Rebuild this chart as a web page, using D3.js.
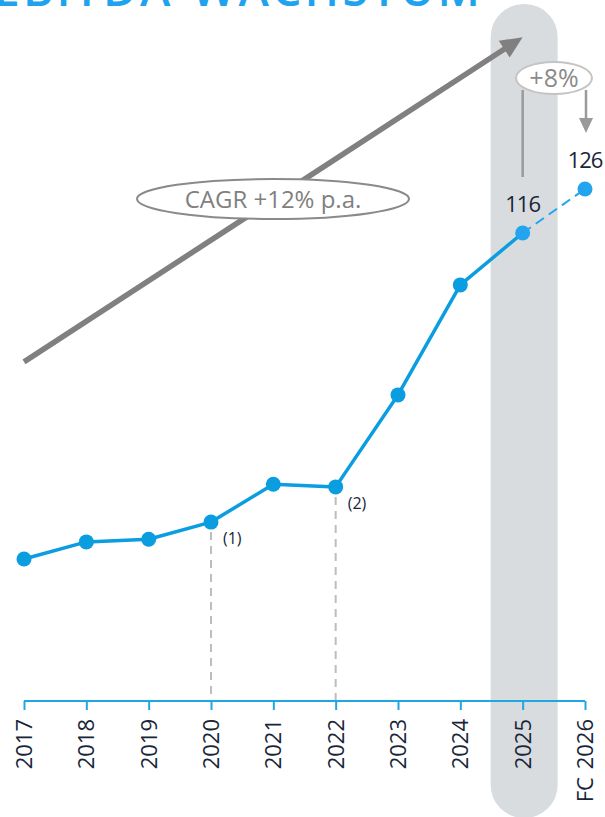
<!DOCTYPE html>
<html>
<head>
<meta charset="utf-8">
<script src="https://cdn.jsdelivr.net/npm/d3@7"></script>
<style>
html,body{margin:0;padding:0;background:#fff;}
svg{display:block;font-family:"Open Sans","Lato",sans-serif;}
</style>
</head>
<body>
<svg id="chart" width="605" height="817"></svg>
<script>
// ---- data ----
const years = ["2017","2018","2019","2020","2021","2022","2023","2024","2025","FC 2026"];
const values = [41.9, 45.8, 46.4, 50.3, 58.9, 58.3, 79.2, 104.2, 116, 126];
const valueLabels = [{idx: 8, text: "116"}, {idx: 9, text: "126"}];
const footnotes = [{idx: 3, text: "(1)"}, {idx: 5, text: "(2)"}];
const titleText = "EBITDA-WACHSTUM";
const cagrText = "CAGR +12% p.a.";
const growthText = "+8%";
const cagrStart = 86.7, cagrEnd = 160.5; // arrow levels in value units
const highlightIdx = 8;

// ---- scales ----
const svg = d3.select("#chart");
const x = d3.scalePoint().domain(years).range([24, 585]);
const y = d3.scaleLinear().domain([0, 126]).range([743.4, 189]);
const axisY = 701;

const blue = "#0a9de0";
const lightBlue = "#22a5ee";
const gray = "#808080";
const navy = "#18263a";

// highlight band
const bx = x(years[highlightIdx]) + 1.5;
svg.append("rect")
  .attr("x", bx - 33.5).attr("y", 4)
  .attr("width", 67).attr("height", 814)
  .attr("rx", 33).attr("ry", 33)
  .attr("fill", "#d9dcdf");

// title
svg.append("text")
  .attr("x", 480).attr("y", 6)
  .attr("text-anchor", "end")
  .attr("font-size", 46).attr("font-weight", 600)
  .attr("fill", "#1fa3ee")
  .attr("textLength", 486)
  .text(titleText);

// CAGR arrow
const ax0 = x(years[0]), ay0 = y(cagrStart);
const ax1 = x(years[highlightIdx]), ay1 = y(cagrEnd);
const ang = Math.atan2(ay1 - ay0, ax1 - ax0);
const hl = 22, hw = 10;
const bxh = ax1 - hl * Math.cos(ang), byh = ay1 - hl * Math.sin(ang);
svg.append("line")
  .attr("x1", ax0).attr("y1", ay0)
  .attr("x2", bxh + 3 * Math.cos(ang)).attr("y2", byh + 3 * Math.sin(ang))
  .attr("stroke", gray).attr("stroke-width", 5.5);
svg.append("path")
  .attr("d", `M${ax1},${ay1} L${bxh - hw * Math.sin(ang)},${byh + hw * Math.cos(ang)} L${bxh + hw * Math.sin(ang)},${byh - hw * Math.cos(ang)} Z`)
  .attr("fill", gray);

// CAGR ellipse
svg.append("ellipse")
  .attr("cx", 273).attr("cy", 199).attr("rx", 136).attr("ry", 20)
  .attr("fill", "#fff").attr("stroke", "#8a8a8a").attr("stroke-width", 2);
svg.append("text")
  .attr("x", 273).attr("y", 207.5)
  .attr("text-anchor", "middle")
  .attr("font-size", 24).attr("fill", gray)
  .text(cagrText);

// growth annotation (+8%)
const g8x0 = x(years[8]), g8x1 = x(years[9]);
svg.append("line")
  .attr("x1", g8x0).attr("y1", 90).attr("x2", g8x0).attr("y2", 177)
  .attr("stroke", "#9a9a9a").attr("stroke-width", 2.5);
svg.append("line")
  .attr("x1", g8x1 + 1).attr("y1", 90).attr("x2", g8x1 + 1).attr("y2", 120)
  .attr("stroke", "#9a9a9a").attr("stroke-width", 2.5);
svg.append("path")
  .attr("d", `M${g8x1 - 6},118 L${g8x1 + 8},118 L${g8x1 + 1},133 Z`)
  .attr("fill", "#9a9a9a");
svg.append("ellipse")
  .attr("cx", 554).attr("cy", 78).attr("rx", 38).attr("ry", 16)
  .attr("fill", "#fff").attr("stroke", "#c4c4c4").attr("stroke-width", 2);
svg.append("text")
  .attr("x", 554).attr("y", 87)
  .attr("text-anchor", "middle")
  .attr("font-size", 25).attr("fill", "#8a8a8a")
  .text(growthText);

// dashed footnote guides
footnotes.forEach(f => {
  const fx = x(years[f.idx]);
  svg.append("line")
    .attr("x1", fx).attr("x2", fx)
    .attr("y1", y(values[f.idx]) + 10).attr("y2", axisY)
    .attr("stroke", "#bdbdbd").attr("stroke-width", 2)
    .attr("stroke-dasharray", "8,6");
  svg.append("text")
    .attr("x", fx + 12).attr("y", y(values[f.idx]) + 22)
    .attr("font-size", 16).attr("fill", navy)
    .text(f.text);
});

// axis
const axis = d3.axisBottom(x).tickSize(9).tickSizeOuter(0).tickFormat("");
const axG = svg.append("g").attr("transform", `translate(0,${axisY})`).call(axis);
axG.select(".domain").attr("stroke", "#1ea7e1").attr("stroke-width", 2)
  .attr("d", `M${x(years[0])},0H${x(years[years.length-1])}`);
axG.selectAll(".tick line").attr("stroke", "#1ea7e1").attr("stroke-width", 2);

svg.append("g").selectAll("text").data(years).join("text")
  .attr("transform", d => `translate(${x(d)},719) rotate(-90)`)
  .attr("text-anchor", "end")
  .attr("dy", "0.36em")
  .attr("font-size", 22).attr("fill", navy)
  .attr("word-spacing", 2)
  .text(d => d);

// line
const pts = years.map((d, i) => [x(d), y(values[i])]);
svg.append("path")
  .attr("d", d3.line()(pts.slice(0, 9)))
  .attr("fill", "none").attr("stroke", blue).attr("stroke-width", 3.5)
  .attr("stroke-linejoin", "round");
svg.append("path")
  .attr("d", d3.line()(pts.slice(8, 10)))
  .attr("fill", "none").attr("stroke", lightBlue).attr("stroke-width", 2)
  .attr("stroke-dasharray", "10,6");

svg.append("g").selectAll("circle").data(pts).join("circle")
  .attr("cx", d => d[0]).attr("cy", d => d[1]).attr("r", 7.5)
  .attr("fill", (d, i) => i >= 8 ? lightBlue : blue);

// value labels
valueLabels.forEach(v => {
  svg.append("text")
    .attr("x", x(years[v.idx])).attr("y", y(values[v.idx]) - 21)
    .attr("text-anchor", "middle")
    .attr("font-size", 22).attr("fill", navy)
    .attr("letter-spacing", -1)
    .text(v.text);
});
</script>
</body>
</html>
